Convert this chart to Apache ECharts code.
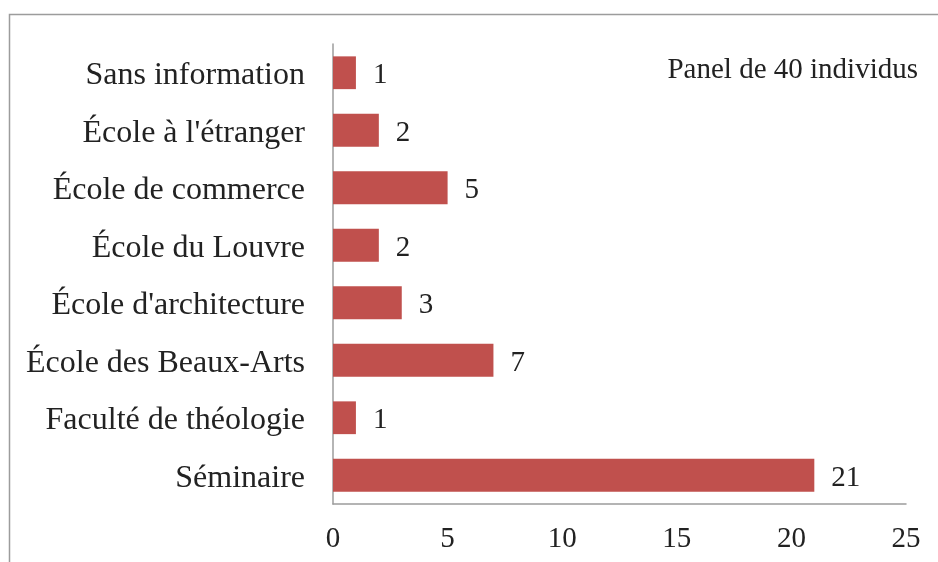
<!DOCTYPE html>
<html>
<head>
<meta charset="utf-8">
<script src="https://cdn.jsdelivr.net/npm/echarts@6/dist/echarts.min.js"></script>
<style>
  html, body { margin: 0; padding: 0; background: #fff; }
  #chart { width: 938px; height: 562px; }
</style>
</head>
<body>
<div id="chart"></div>
<script>
// categories, top to bottom as they read on the chart
var categories = ['Sans information', "École à l'étranger", 'École de commerce', 'École du Louvre',
  "École d'architecture", 'École des Beaux-Arts', 'Faculté de théologie', 'Séminaire'];
var counts = [1, 2, 5, 2, 3, 7, 1, 21];
var xTicks = [0, 5, 10, 15, 20, 25];
var note = 'Panel de 40 individus';

var chart = echarts.init(document.getElementById('chart'));
var font = '"Liberation Serif", "Times New Roman", serif';

var option = {
  backgroundColor: '#fff',
  animation: false,
  textStyle: { fontFamily: font },
  grid: { left: 333, right: 32, top: 44, bottom: 58, containLabel: false },
  graphic: [{
    type: 'rect',
    shape: { x: 9.5, y: 14.5, width: 1000, height: 1000 },
    style: { fill: null, stroke: '#9c9c9c', lineWidth: 1.5 },
    silent: true
  }, {
    type: 'text',
    right: 20,
    top: 56,
    style: { text: note, font: '29px ' + font, fill: '#222' }
  }],
  xAxis: {
    type: 'value',
    min: xTicks[0],
    max: xTicks[xTicks.length - 1],
    interval: 5,
    splitLine: { show: false },
    axisTick: { show: false },
    axisLine: { show: true, lineStyle: { color: '#9c9c9c', width: 1.5 } },
    axisLabel: { fontSize: 29, color: '#222', fontFamily: font, margin: 21 }
  },
  yAxis: {
    type: 'category',
    inverse: true,
    data: categories,
    axisTick: { show: false },
    axisLine: { show: true, lineStyle: { color: '#9c9c9c', width: 1.5 } },
    axisLabel: {
      fontSize: 32, color: '#222', fontFamily: font, margin: 28,
      formatter: function (v) { return '{c|' + v + '}'; },
      rich: { c: { fontSize: 32, fontFamily: font, color: '#222', padding: [6, 0, 0, 0] } }
    }
  },
  series: [{
    type: 'bar',
    data: counts,
    barCategoryGap: '43%',
    itemStyle: { color: '#c0504d' },
    label: {
      show: true,
      position: 'right',
      distance: 17,
      offset: [0, 3],
      fontSize: 29,
      color: '#222',
      fontFamily: font
    }
  }]
};
chart.setOption(option);
</script>
</body>
</html>
